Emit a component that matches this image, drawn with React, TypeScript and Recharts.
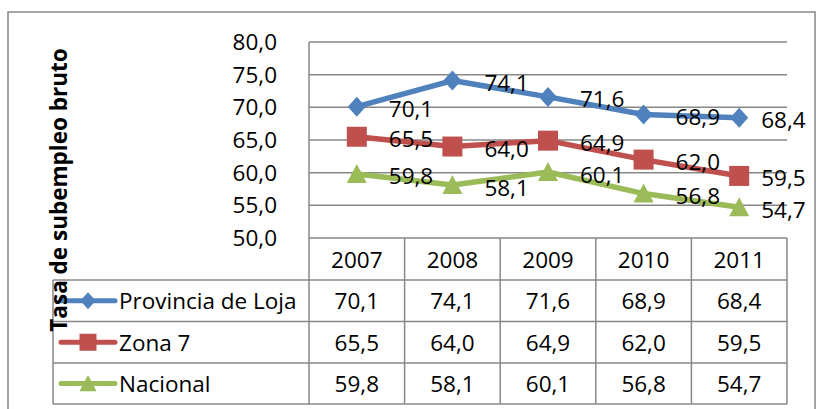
import React from 'react';
import { LineChart, Line, XAxis, YAxis, CartesianGrid, Customized } from 'recharts';

const years = ['2007', '2008', '2009', '2010', '2011'];
const loja = [70.1, 74.1, 71.6, 68.9, 68.4];
const zona7 = [65.5, 64.0, 64.9, 62.0, 59.5];
const nacional = [59.8, 58.1, 60.1, 56.8, 54.7];
const yTicks = [50, 55, 60, 65, 70, 75, 80];

const series = [
  { key: 'loja', name: 'Provincia de Loja', values: loja, color: '#4F81BD', marker: 'diamond' },
  { key: 'zona7', name: 'Zona 7', values: zona7, color: '#C0504D', marker: 'square' },
  { key: 'nacional', name: 'Nacional', values: nacional, color: '#9BBB59', marker: 'triangle' },
];

const data = years.map((year, i) => ({ year, loja: loja[i], zona7: zona7[i], nacional: nacional[i] }));

const FONT = '"Open Sans", sans-serif';
const FS = 22.5;
const GRID = '#878787';

// layout of the data table under the plot (Excel style)
const PLOT_LEFT = 309;
const PLOT_RIGHT = 787;
const COL_W = (PLOT_RIGHT - PLOT_LEFT) / years.length;
const TABLE_TOP = 238;
const ROW_LINES = [280, 321.5, 363, 404];
const LEGEND_LEFT = 53;

const fmt = (v: number) => v.toFixed(1).replace('.', ',');

const Marker = ({ kind, cx, cy, s, color }: any) => {
  if (kind === 'diamond')
    return <polygon points={`${cx},${cy - 10 * s} ${cx + 9 * s},${cy} ${cx},${cy + 10 * s} ${cx - 9 * s},${cy}`} fill={color} />;
  if (kind === 'square')
    return <rect x={cx - 10 * s} y={cy - 10 * s} width={20 * s} height={20 * s} fill={color} />;
  return <polygon points={`${cx},${cy - 10 * s} ${cx + 10 * s},${cy + 9 * s} ${cx - 10 * s},${cy + 9 * s}`} fill={color} />;
};

// each x tick draws its own column of the table
const TableTick = (props: any) => {
  const { x, index } = props;
  const half = COL_W / 2;
  const rowMid = [TABLE_TOP, ...ROW_LINES];
  return (
    <g>
      <text x={x} y={(rowMid[0] + rowMid[1]) / 2} textAnchor="middle" dominantBaseline="central" fontSize={FS} fontFamily={FONT} fill="#000">
        {years[index]}
      </text>
      {series.map((s, r) => (
        <text key={s.key} x={x} y={(rowMid[r + 1] + rowMid[r + 2]) / 2} textAnchor="middle" dominantBaseline="central" fontSize={FS} fontFamily={FONT} fill="#000">
          {fmt(s.values[index])}
        </text>
      ))}
      <line x1={x + half} x2={x + half} y1={TABLE_TOP} y2={ROW_LINES[3]} stroke={GRID} strokeWidth={1.5} />
    </g>
  );
};

const Frame = () => {
  const rowMid = ROW_LINES.slice(0, 3).map((y, i) => (y + ROW_LINES[i + 1]) / 2);
  return (
    <g>
      <rect x={8} y={12} width={807} height={410} fill="none" stroke={GRID} strokeWidth={1.5} />
      {ROW_LINES.map((y) => (
        <line key={y} x1={LEGEND_LEFT} x2={PLOT_RIGHT} y1={y} y2={y} stroke={GRID} strokeWidth={1.5} />
      ))}
      <line x1={LEGEND_LEFT} x2={LEGEND_LEFT} y1={ROW_LINES[0]} y2={ROW_LINES[3]} stroke={GRID} strokeWidth={1.5} />
      <line x1={PLOT_LEFT} x2={PLOT_LEFT} y1={TABLE_TOP} y2={ROW_LINES[3]} stroke={GRID} strokeWidth={1.5} />
      {series.map((s, i) => (
        <g key={s.key}>
          <line x1={61} x2={115} y1={rowMid[i]} y2={rowMid[i]} stroke={s.color} strokeWidth={5} strokeLinecap="round" />
          <Marker kind={s.marker} cx={88} cy={rowMid[i]} s={0.85} color={s.color} />
          <text x={119} y={rowMid[i]} dominantBaseline="central" fontSize={FS} fontFamily={FONT} fill="#000">
            {s.name}
          </text>
        </g>
      ))}
      <text
        x={58}
        y={190}
        transform="rotate(-90, 58, 190)"
        textAnchor="middle"
        dominantBaseline="central"
        fontSize={22.5}
        fontWeight="bold"
        fontFamily={FONT}
        fill="#000"
      >
        Tasa de subempleo bruto
      </text>
    </g>
  );
};

export default function App() {
  return (
    <div style={{ position: 'absolute', left: 0, top: 0, width: 816, height: 409, background: '#fff' }}>
      <LineChart width={816} height={409} data={data} margin={{ top: 42, right: 29, bottom: 0, left: 0 }}>
        <CartesianGrid vertical={false} stroke={GRID} strokeWidth={1.5} />
        <XAxis
          dataKey="year"
          padding={{ left: COL_W / 2, right: COL_W / 2 }}
          axisLine={false}
          tickLine={false}
          height={171}
          interval={0}
          tick={TableTick}
        />
        <YAxis
          domain={[50, 80]}
          ticks={yTicks}
          interval={0}
          width={309}
          tickFormatter={fmt}
          tickLine={false}
          tickSize={30}
          tickMargin={2}
          axisLine={{ stroke: GRID, strokeWidth: 1.5 }}
          tick={{ fill: '#000', fontSize: FS, fontFamily: FONT }}
        />
        {series.map((s) => (
          <Line
            key={s.key}
            dataKey={s.key}
            name={s.name}
            stroke={s.color}
            strokeWidth={5.5}
            strokeLinejoin="round"
            isAnimationActive={false}
            activeDot={false}
            dot={(p: any) => <Marker key={p.index} kind={s.marker} cx={p.cx} cy={p.cy} s={1} color={s.color} />}
            label={(p: any) => (
              <text
                key={p.index}
                x={p.x + (p.index === years.length - 1 ? 22 : 32)}
                y={p.y + 2}
                dominantBaseline="central"
                fontSize={FS}
                fontFamily={FONT}
                fill="#000"
              >
                {fmt(p.value)}
              </text>
            )}
          />
        ))}
        <Customized component={Frame} />
      </LineChart>
    </div>
  );
}
